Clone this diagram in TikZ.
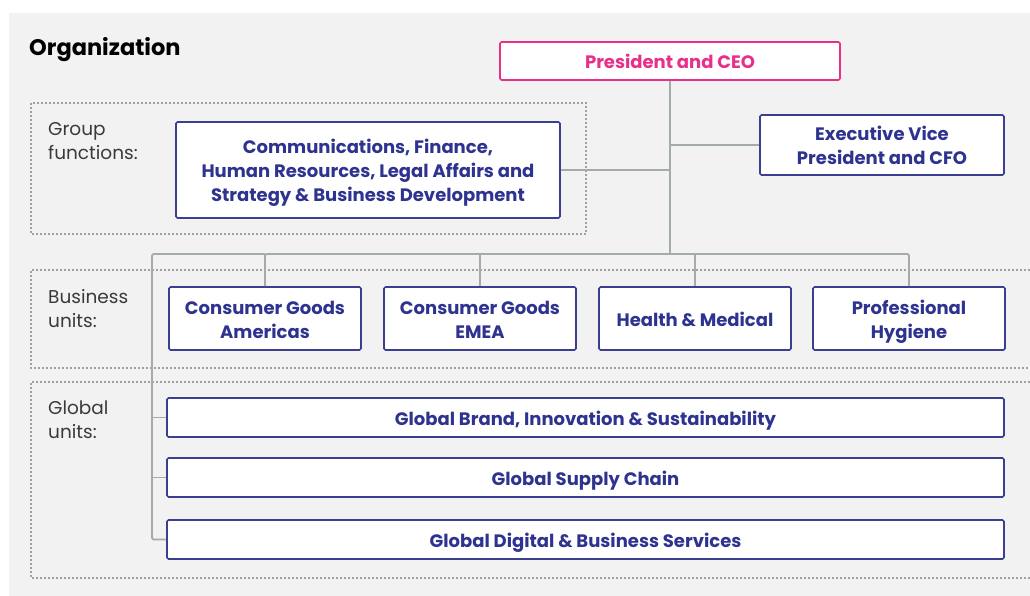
\documentclass[tikz,border=0pt]{standalone}
\usepackage{fontspec}
\setmainfont{Poppins}
\definecolor{bggray}{HTML}{F2F2F2}
\definecolor{navy}{HTML}{3A3F8F}
\definecolor{navytext}{HTML}{2E3390}
\definecolor{ceopink}{HTML}{E8308A}
\definecolor{conngray}{HTML}{A3ABAB}
\definecolor{dotgray}{HTML}{A0A0A0}
\definecolor{labelgray}{HTML}{3A3A3A}
\tikzset{
  orgbox/.style={draw=navy, line width=1.6pt, fill=white, rounded corners=1.5pt,
    text=navytext, font=\bfseries\fontsize{18}{24}\selectfont, align=center, inner sep=0pt,
    text height=15pt, text depth=0pt},
  twoline/.style={text height=39pt, text depth=0pt},
  threeline/.style={text height=63pt, text depth=0pt},
  ceobox/.style={orgbox, draw=ceopink, text=ceopink},
  conn/.style={draw=conngray, line width=1.8pt},
  grpframe/.style={draw=dotgray, line width=1.1pt, dash pattern=on 2pt off 2pt},
  sidelabel/.style={anchor=west, align=left, text=labelgray, inner sep=0pt,
    font=\fontsize{18.5}{24}\selectfont},
}
\begin{document}
\begin{tikzpicture}[x=1pt,y=-1pt]
\useasboundingbox (0,0) rectangle (1030,596);
\fill[white] (0,0) rectangle (1030,596);
\fill[bggray] (9,13) rectangle (1030,596);
% group frames
\draw[grpframe] (31,103) rectangle (586,234);
\draw[grpframe] (1030,270) -- (31,270) -- (31,368) -- (1030,368);
\draw[grpframe] (1030,382) -- (31,382) -- (31,578) -- (1030,578);
% title
\node[anchor=base west, inner sep=0pt, font=\bfseries\fontsize{22.5}{26}\selectfont, text=black] (title) at (29,56) {Organization};
% side labels
\node[sidelabel] (lgroup) at (48,141.5) {Group\\functions:};
\node[sidelabel] (lbus) at (48,308.5) {Business\\units:};
\node[sidelabel] (lglob) at (48,419.5) {Global\\units:};
% coordinates
\coordinate (busL) at (152,254);
\coordinate (busC) at (670,254);
% boxes
\node[ceobox, minimum width=340pt, minimum height=38pt] (ceo) at (670,61) {President and CEO};
\node[orgbox, threeline, minimum width=384pt, minimum height=96pt] (comm) at (368,170) {Communications, Finance,\\Human Resources, Legal Affairs and\\Strategy \& Business Development};
\node[orgbox, twoline, minimum width=244pt, minimum height=60pt] (evp) at (882,145) {Executive Vice\\President and CFO};
\node[orgbox, twoline, minimum width=192pt, minimum height=63pt] (bu1) at (265,318.5) {Consumer Goods\\Americas};
\node[orgbox, twoline, minimum width=192pt, minimum height=63pt] (bu2) at (480,318.5) {Consumer Goods\\EMEA};
\node[orgbox, minimum width=192pt, minimum height=63pt] (bu3) at (695,318.5) {Health \& Medical};
\node[orgbox, twoline, minimum width=192pt, minimum height=63pt] (bu4) at (909,318.5) {Professional\\Hygiene};
\node[orgbox, minimum width=837pt, minimum height=39pt] (gu1) at (585.5,417.5) {Global Brand, Innovation \& Sustainability};
\node[orgbox, minimum width=837pt, minimum height=39pt] (gu2) at (585.5,477.5) {Global Supply Chain};
\node[orgbox, minimum width=837pt, minimum height=39pt] (gu3) at (585.5,539.5) {Global Digital \& Business Services};
% connectors
\draw[conn] (ceo.south) -- (busC);
\draw[conn] (comm.east) -- (comm.east -| ceo.south);
\draw[conn] (evp.west) -- (evp.west -| ceo.south);
\draw[conn, rounded corners=2pt] (bu1.north) -- (bu1.north |- busL) -- (bu4.north |- busL) -- (bu4.north);
\draw[conn] (bu2.north |- busL) -- (bu2.north);
\draw[conn] (bu3.north |- busL) -- (bu3.north);
\draw[conn, rounded corners=2pt] (bu1.north |- busL) -- (busL) -- (gu3.west -| busL) -- (gu3.west);
\draw[conn] (gu1.west -| busL) -- (gu1.west);
\draw[conn] (gu2.west -| busL) -- (gu2.west);
\end{tikzpicture}
\end{document}
